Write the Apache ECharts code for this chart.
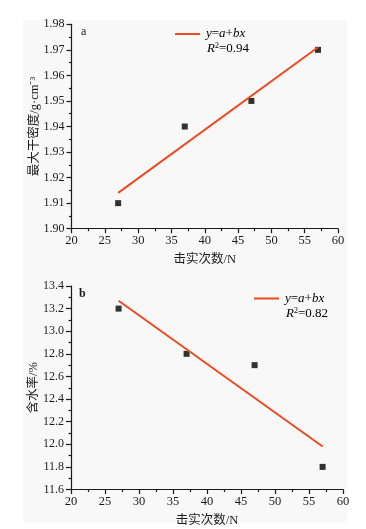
<!DOCTYPE html>
<html><head><meta charset="utf-8">
<script src="https://cdn.jsdelivr.net/npm/echarts@6/dist/echarts.min.js"></script>
<style>html,body{margin:0;padding:0;background:#fff}#c{width:366px;height:529px}</style>
</head><body><div id="c"></div>
<script>
const blowCounts = [27, 37, 47, 57];
const maxDryDensity = [1.91, 1.94, 1.95, 1.97];
const densityFitX = [27, 57];
const densityFitY = [1.914, 1.971];
const waterContent = [13.2, 12.8, 12.7, 11.8];
const waterFitX = [27, 57];
const waterFitY = [13.27, 11.98];
const xRange = [20, 60, 5];
const densityRange = [1.90, 1.98, 0.01];
const waterRange = [11.6, 13.4, 0.2];
const xTitle = '击实次数/N';
const densityTitle = '最大干密度/g·cm⁻³';
const waterTitle = '含水率/%';
const r2Labels = ['0.94', '0.82'];
const panelLabels = ['a', 'b'];

const FONT = '"Liberation Serif", "Noto Sans CJK SC", serif';
const RED = '#ee4a22';
const AX = '#1a1a1a';

function xAxisCfg(gi) {
  return {
    type: 'value', gridIndex: gi, min: xRange[0], max: xRange[1], interval: xRange[2],
    name: xTitle, nameLocation: 'middle', nameGap: 25, nameMoveOverlap: false,
    nameTextStyle: {fontFamily: FONT, fontSize: 12.5, color: AX},
    axisLine: {onZero: false, lineStyle: {color: AX, width: 1.2}},
    axisTick: {show: true, inside: false, length: 4.5, lineStyle: {color: AX, width: 1.2}},
    minorTick: {show: true, splitNumber: 2, length: 2.5, lineStyle: {color: AX, width: 1.2}},
    axisLabel: {fontFamily: FONT, fontSize: 12.5, color: AX, margin: 6},
    splitLine: {show: false}
  };
}
function yAxisCfg(gi, r, name, dec) {
  return {
    type: 'value', gridIndex: gi, min: r[0], max: r[1], interval: r[2],
    name: name, nameLocation: 'middle', nameGap: 31, nameRotate: 90, nameMoveOverlap: false,
    nameTextStyle: {fontFamily: FONT, fontSize: 12.5, color: AX},
    axisLine: {show: true, onZero: false, lineStyle: {color: AX, width: 1.2}},
    axisTick: {show: true, inside: false, length: 5, lineStyle: {color: AX, width: 1.2}},
    minorTick: {show: true, splitNumber: 2, length: 2.5, lineStyle: {color: AX, width: 1.2}},
    axisLabel: {fontFamily: FONT, fontSize: 12, color: AX, margin: 7, formatter: v => v.toFixed(dec)},
    splitLine: {show: false}
  };
}
const rich = {
  i: {fontFamily: FONT, fontStyle: 'italic', fontSize: 13, color: AX},
  n: {fontFamily: FONT, fontSize: 13, color: AX},
  s: {fontFamily: FONT, fontSize: 8, color: AX, verticalAlign: 'top', padding: [0, 0, 6, 0]}
};
const fitText = '{i|y}{n|=}{i|a}{n|+}{i|bx}';
function r2Text(v) { return '{i|R}{s|2}{n|=' + v + '}'; }

function legendBlock(x, y, r2) {
  return [
    {type: 'line', shape: {x1: x, y1: y, x2: x + 25, y2: y}, style: {stroke: RED, lineWidth: 2}},
    {type: 'text', x: x + 31, y: y, style: {text: fitText, rich: rich, verticalAlign: 'middle'}},
    {type: 'text', x: x + 32, y: y + 15, style: {text: r2Text(r2), rich: rich, verticalAlign: 'middle'}}
  ];
}

const chart = echarts.init(document.getElementById('c'), null, {renderer: 'canvas'});
chart.setOption({
  backgroundColor: '#ffffff',
  animation: false,
  grid: [
    {left: 71.5, right: 28, top: 24.3, height: 204.4},
    {left: 71, right: 23, top: 286, height: 203.5}
  ],
  xAxis: [xAxisCfg(0), xAxisCfg(1)],
  yAxis: [yAxisCfg(0, densityRange, densityTitle, 2), yAxisCfg(1, waterRange, waterTitle, 1)],
  graphic: [
    {type: 'rect', z: -10, silent: true, shape: {x: 23, y: 20, width: 324, height: 503}, style: {fill: '#f8f8f8'}},
    ...legendBlock(175, 34, r2Labels[0]),
    ...legendBlock(254, 298.5, r2Labels[1]),
    {type: 'text', x: 81, y: 32, style: {text: panelLabels[0], font: '12px ' + FONT, fill: AX, verticalAlign: 'middle'}},
    {type: 'text', x: 79, y: 294, style: {text: panelLabels[1], font: 'bold 12px ' + FONT, fill: AX, verticalAlign: 'middle'}}
  ],
  series: [
    {name: 'fitA', type: 'line', xAxisIndex: 0, yAxisIndex: 0, symbol: 'none',
     lineStyle: {color: RED, width: 2}, itemStyle: {color: RED},
     data: densityFitX.map((x, i) => [x, densityFitY[i]])},
    {name: 'ptsA', type: 'scatter', xAxisIndex: 0, yAxisIndex: 0, symbol: 'rect', symbolSize: 6,
     itemStyle: {color: '#000'}, data: blowCounts.map((x, i) => [x, maxDryDensity[i]])},
    {name: 'fitB', type: 'line', xAxisIndex: 1, yAxisIndex: 1, symbol: 'none',
     lineStyle: {color: RED, width: 2}, itemStyle: {color: RED},
     data: waterFitX.map((x, i) => [x, waterFitY[i]])},
    {name: 'ptsB', type: 'scatter', xAxisIndex: 1, yAxisIndex: 1, symbol: 'rect', symbolSize: 6,
     itemStyle: {color: '#000'}, data: blowCounts.map((x, i) => [x, waterContent[i]])}
  ]
});
</script></body></html>
